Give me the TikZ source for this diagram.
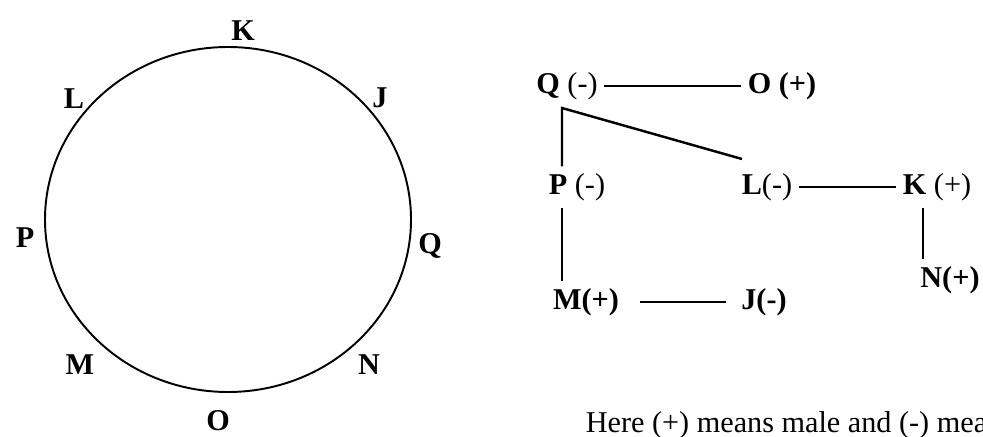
\documentclass[tikz,border=0pt]{standalone}
\usepackage{fontspec}
\setmainfont{Liberation Serif}

\begin{document}
\begin{tikzpicture}[x=0.02cm,y=-0.02cm,line width=1.1pt,
  every node/.style={font=\fontsize{17.2}{20}\selectfont},
  seat/.style={font=\fontsize{17.2}{20}\selectfont\bfseries},
  link/.style={line width=1.4pt}]
\clip (0,0) rectangle (983,436);
\useasboundingbox (0,0) rectangle (983,436);
% 圆桌
\draw (228,219.5) ellipse [x radius=183, y radius=172.5];
% 座位字母
\node[seat] (cK) at (243,31) {K};
\node[seat] (cJ) at (380,98) {J};
\node[seat] (cL) at (74,99) {L};
\node[seat] (cP) at (25,238) {P};
\node[seat] (cQ) at (430,246) {Q};
\node[seat] (cM) at (80,365) {M};
\node[seat] (cN) at (369,365) {N};
\node[seat] (cO) at (218,421) {O};
% 关系图
\node (nQ) at (567,86) {\textbf{Q} (-)};
\node (nO) at (782,86) {\textbf{O (+)}};
\node (nP) at (577,187) {\textbf{P} (-)};
\node (nL) at (767,187) {\textbf{L}(-)};
\node (nK) at (937,187) {\textbf{K} (+)};
\node (nN) at (950,280) {\textbf{N(+)}};
\node (nM) at (586,302) {\textbf{M(+)}};
\node (nJ) at (764,302) {\textbf{J(-)}};
\coordinate (qfoot) at (562,108);
\coordinate (ltop) at (742,159);
\coordinate (kx) at (923,0);
\draw[link] (nQ) -- (nO);
\draw[link] (nP.north -| qfoot) -- (qfoot) -- (ltop);
\draw[link] (nP.south -| qfoot) -- (nM.north -| qfoot);
\draw[link] (nL) -- (nK);
\draw[link] (nK.south -| kx) -- (nN.north -| kx);
\draw[link,shorten <=8pt,shorten >=5pt] (nM) -- (nJ);
% 说明
\node[anchor=base west] (note) at (579,432) {Here (+) means male and (-) means};
\end{tikzpicture}
\end{document}
